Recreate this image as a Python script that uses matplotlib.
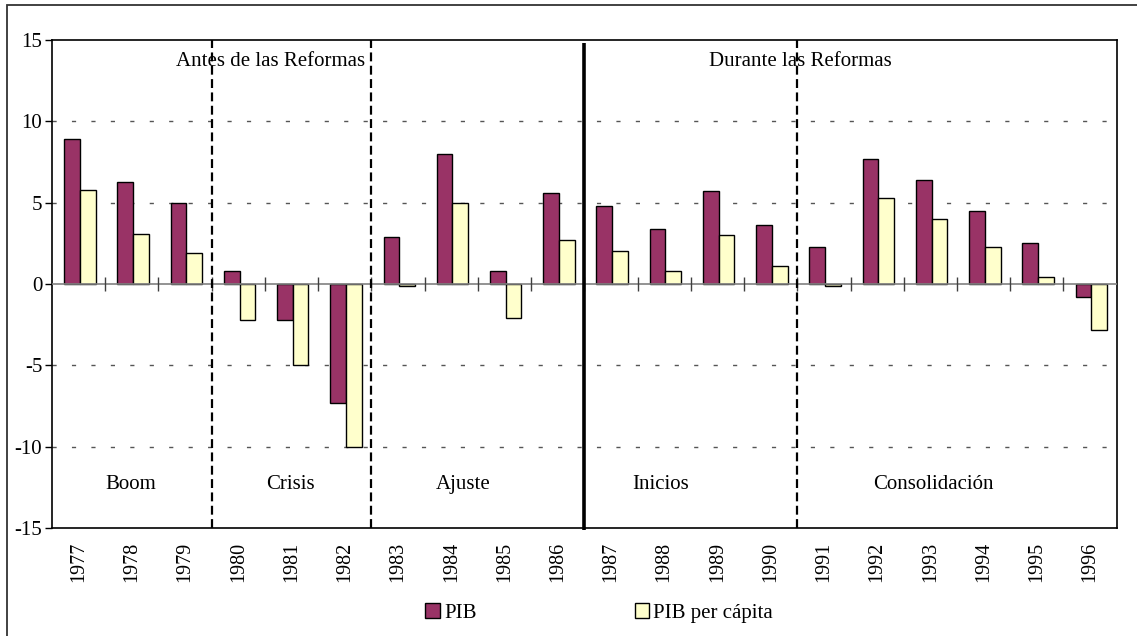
import matplotlib
matplotlib.use("Agg")
import matplotlib.pyplot as plt
from matplotlib.patches import Rectangle, Patch

plt.rcParams['font.family'] = ['Liberation Serif', 'DejaVu Serif']

# datos
years = [str(y) for y in range(1977, 1997)]
pib = [8.9, 6.3, 5.0, 0.8, -2.2, -7.3, 2.9, 8.0, 0.8, 5.6,
       4.8, 3.4, 5.7, 3.6, 2.3, 7.7, 6.4, 4.5, 2.5, -0.8]
pib_pc = [5.8, 3.1, 1.9, -2.2, -5.0, -10.0, -0.1, 5.0, -2.1, 2.7,
          2.0, 0.8, 3.0, 1.1, -0.1, 5.3, 4.0, 2.3, 0.4, -2.8]
etapas = ['Boom', 'Crisis', 'Ajuste', 'Inicios', 'Consolidación']
etapas_x = [1.47, 4.47, 7.73, 11.44, 16.55]
cortes = [3, 6, 14]      # lineas punteadas
corte_reforma = 10       # linea solida
periodos = ['Antes de las Reformas', 'Durante las Reformas']
periodos_x = [4.1, 14.06]

c_pib = '#993366'
c_pc = '#FFFFCC'

fig = plt.figure(figsize=(11.37, 6.36), dpi=100)
ax = fig.add_axes([52/1137, 1-528/636, (1116.7-52)/1137, (528-40)/636])

n = len(years)
xs = [i + 0.5 for i in range(n)]
w = 0.295
ax.bar([x - 0.125 for x in xs], pib, width=w, color=c_pib, edgecolor='black', linewidth=1.0, zorder=3)
ax.bar([x + 0.17 for x in xs], pib_pc, width=w, color=c_pc, edgecolor='black', linewidth=1.0, zorder=3)

ax.set_xlim(0, n)
ax.set_ylim(-15, 15)
ax.set_yticks([-15, -10, -5, 0, 5, 10, 15])
ax.set_yticklabels(['-15', '-10', '-5', '0', '5', '10', '15'])
ax.set_xticks(xs)
ax.set_xticklabels(years, rotation=90)
ax.tick_params(axis='x', length=0, pad=10, labelsize=14.5)
ax.tick_params(axis='y', length=5, width=1, pad=2, labelsize=15, direction='out')

# rejilla horizontal
for v in [-10, -5, 5, 10]:
    ax.axhline(v, color='#555555', linewidth=1, dashes=(3, 11), zorder=1)
ax.axhline(0, color='#808080', linewidth=1.2, zorder=4)
ax.vlines(range(1, n), -0.43, 0.43, color='#404040', linewidth=1, zorder=4)

for s in ax.spines.values():
    s.set_linewidth(1.2)
    s.set_color('black')

# divisiones de etapas
for c in cortes:
    ax.axvline(c, color='black', linewidth=1.6, dashes=(4, 2), zorder=5)
ax.plot([corte_reforma, corte_reforma], [14.8, -15.15], color='black', linewidth=2.6,
        zorder=5, clip_on=False, solid_capstyle='butt')

for t, x in zip(etapas, etapas_x):
    ax.text(x, -12.3, t, ha='center', va='center', fontsize=15)
for t, x in zip(periodos, periodos_x):
    ax.text(x, 13.7, t, ha='center', va='center', fontsize=15)

handles = [Patch(facecolor=c_pib, edgecolor='black', linewidth=1),
           Patch(facecolor=c_pc, edgecolor='black', linewidth=1)]
fig.legend(handles, ['PIB', 'PIB per cápita'], ncol=2, frameon=False, loc='center',
           bbox_to_anchor=(0.527, 0.036), fontsize=15, handlelength=0.7, handleheight=0.7,
           handletextpad=0.2, columnspacing=7.6)

# marco exterior
fig.add_artist(Rectangle((7/1137, -0.2), 2, 0.2 + 1 - 5/636, transform=fig.transFigure,
                         fill=False, edgecolor='#333333', linewidth=1.3))

fig.savefig('out.png', dpi=100)
